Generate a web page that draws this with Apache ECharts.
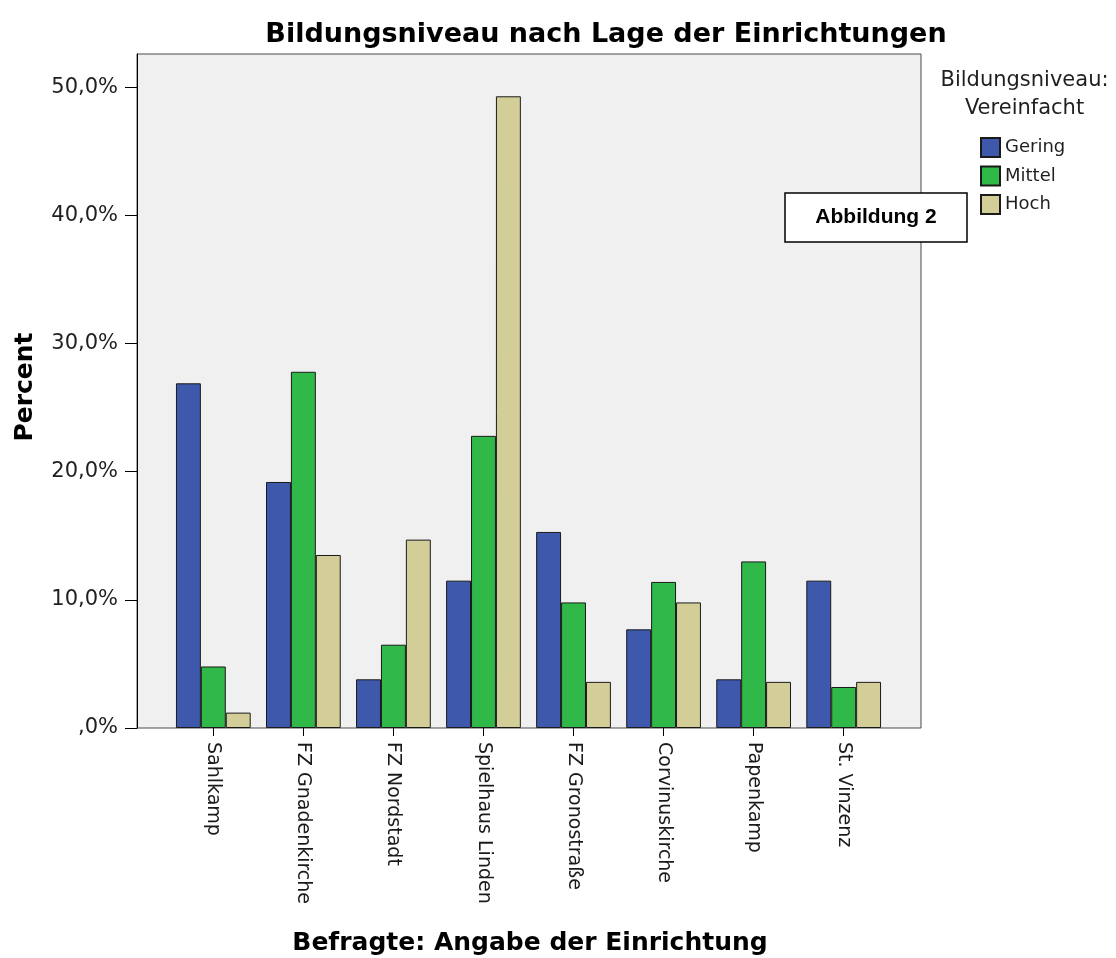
<!DOCTYPE html>
<html lang="de">
<head>
    <meta charset="UTF-8">
    <title>Bildungsniveau nach Lage der Einrichtungen</title>
    <script src="https://cdn.jsdelivr.net/npm/echarts@6/dist/echarts.min.js"></script>
    <style>
        html, body { margin: 0; padding: 0; background: #fff; }
        #chart { width: 1116px; height: 958px; }
    </style>
</head>
<body>
    <div id="chart"></div>
    <script>
        // Einrichtungen (x-Achse)
        const categories = ['Sahlkamp', 'FZ Gnadenkirche', 'FZ Nordstadt', 'Spielhaus Linden',
            'FZ Gronostraße', 'Corvinuskirche', 'Papenkamp', 'St. Vinzenz'];
        // Prozentwerte je Bildungsniveau
        const gering = [26.9, 19.2, 3.8, 11.5, 15.3, 7.7, 3.8, 11.5];
        const mittel = [4.8, 27.8, 6.5, 22.8, 9.8, 11.4, 13.0, 3.2];
        const hoch = [1.2, 13.5, 14.7, 49.3, 3.6, 9.8, 3.6, 3.6];
        const yTicks = [0, 10, 20, 30, 40, 50];

        const font = 'DejaVu Sans';
        const barBorder = { borderColor: '#1a1a1a', borderWidth: 1 };

        function pct(v) {
            // SPSS-Stil: ",0%" fuer null, "10,0%" usw.
            let s = v.toFixed(1).replace('.', ',');
            if (s.startsWith('0')) s = s.slice(1);
            return s + '%';
        }

        const chart = echarts.init(document.getElementById('chart'));
        chart.setOption({
            animation: false,
            grid: [
                // Rahmen mit Hintergrund
                { left: 137, top: 54, width: 784, height: 674, show: true,
                  backgroundColor: '#f0f0f0', borderColor: '#4a4a4a', borderWidth: 1 },
                // Balkenbereich
                { left: 168.3, top: 54, width: 720.4, height: 674 }
            ],
            xAxis: [
                { gridIndex: 0, type: 'value', min: 0, max: 1, show: false },
                {
                    gridIndex: 1, type: 'category', data: categories,
                    axisLine: { show: false },
                    axisTick: { show: true, alignWithLabel: true, length: 8,
                        lineStyle: { color: '#000', width: 1 } },
                    axisLabel: { rotate: -90, margin: 14, fontFamily: font, fontSize: 19, color: '#1a1a1a' }
                }
            ],
            yAxis: [
                {
                    gridIndex: 0, type: 'value', min: 0, max: 52.6,
                    axisLine: { show: true, lineStyle: { color: '#000', width: 1 } },
                    axisTick: { show: true, length: 12, customValues: yTicks,
                        lineStyle: { color: '#000', width: 1 } },
                    axisLabel: { customValues: yTicks, margin: 19, formatter: pct,
                        fontFamily: font, fontSize: 21, color: '#1f1f1f' },
                    splitLine: { show: false }
                },
                { gridIndex: 1, type: 'value', min: 0, max: 52.6, show: false }
            ],
            legend: {
                orient: 'vertical', left: 980, top: 137, padding: 0,
                itemWidth: 19, itemHeight: 19, itemGap: 7.5, icon: 'rect',
                textStyle: { fontFamily: font, fontSize: 18, color: '#1f1f1f' },
                data: ['Gering', 'Mittel', 'Hoch']
            },
            series: [
                { name: 'Gering', type: 'bar', xAxisIndex: 1, yAxisIndex: 1, data: gering,
                  barGap: '0%', barCategoryGap: '17%',
                  itemStyle: Object.assign({ color: '#3e58ac' }, barBorder) },
                { name: 'Mittel', type: 'bar', xAxisIndex: 1, yAxisIndex: 1, data: mittel,
                  barGap: '0%', barCategoryGap: '17%',
                  itemStyle: Object.assign({ color: '#30b848' }, barBorder) },
                { name: 'Hoch', type: 'bar', xAxisIndex: 1, yAxisIndex: 1, data: hoch,
                  barGap: '0%', barCategoryGap: '17%',
                  itemStyle: Object.assign({ color: '#d3ce97' }, barBorder) }
            ],
            graphic: [
                { type: 'text', x: 606, y: 35, z: 100,
                  style: { text: 'Bildungsniveau nach Lage der Einrichtungen', align: 'center',
                      verticalAlign: 'middle', font: 'bold 27px "DejaVu Sans"', fill: '#000' } },
                { type: 'text', x: 25, y: 387, rotation: Math.PI / 2, z: 100,
                  style: { text: 'Percent', align: 'center', verticalAlign: 'middle',
                      font: 'bold 25px "DejaVu Sans"', fill: '#000' } },
                { type: 'text', x: 530, y: 943, z: 100,
                  style: { text: 'Befragte: Angabe der Einrichtung', align: 'center',
                      verticalAlign: 'middle', font: 'bold 25px "DejaVu Sans"', fill: '#000' } },
                { type: 'text', x: 1024.5, y: 80.4, z: 100,
                  style: { text: 'Bildungsniveau:', align: 'center', verticalAlign: 'middle',
                      font: '21px "DejaVu Sans"', fill: '#1f1f1f' } },
                { type: 'text', x: 1024.5, y: 108.7, z: 100,
                  style: { text: 'Vereinfacht', align: 'center', verticalAlign: 'middle',
                      font: '21px "DejaVu Sans"', fill: '#1f1f1f' } },
                { type: 'rect', z: 100,
                  shape: { x: 785, y: 193, width: 182, height: 49 },
                  style: { fill: '#fff', stroke: '#000', lineWidth: 1.5 } },
                { type: 'text', x: 876, y: 217, z: 101,
                  style: { text: 'Abbildung 2', align: 'center', verticalAlign: 'middle',
                      font: 'bold 21px "Liberation Sans"', fill: '#000' } }
            ]
        });
    </script>
</body>
</html>
